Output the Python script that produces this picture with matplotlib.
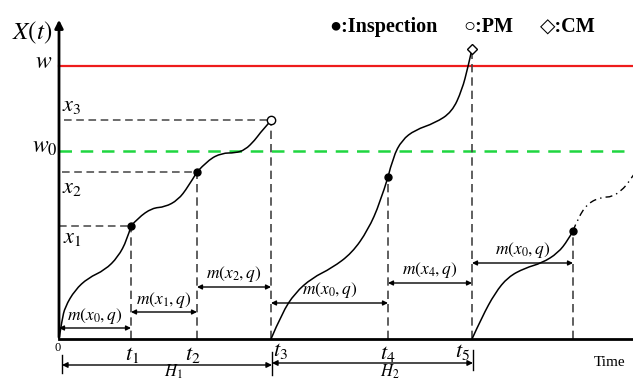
import matplotlib.pyplot as plt
from matplotlib.path import Path
from matplotlib.patches import PathPatch

plt.rcParams.update({
    'font.family': ['Liberation Serif', 'DejaVu Sans'],
    'mathtext.fontset': 'stix',
})

# ── Data (time units / degradation units) ─────
t_insp = [7.2, 13.8, 21.2, 32.9, 41.3, 51.4]      # t1..t5 and next inspection
w_fail = 27.3
w_pm = 18.8
x_levels = [11.3, 16.7, 21.9]                     # x1, x2, x3

# cycle 1: 0 -> PM at t3
c1_t = [0.0, 0.3, 0.6, 1.6, 2.9, 4.6, 5.9, 6.8, 7.2, 7.9, 9.3, 10.6, 11.9, 12.9, 13.8,
        14.9, 16.3, 17.6, 18.6, 19.6, 20.1, 21.0, 21.2]
c1_x = [0.0, 1.9, 3.2, 4.9, 6.1, 6.9, 8.2, 9.9, 11.3, 12.1, 13.1, 13.2, 13.9, 15.2, 16.7,
        17.9, 18.6, 18.6, 18.9, 19.9, 20.6, 21.6, 21.9]
# cycle 2: t3 -> CM at t5
c2_t = [21.2, 22.3, 23.6, 25.3, 27.3, 29.3, 30.9, 32.1, 32.9, 33.4, 34.3, 35.6, 37.6,
        39.3, 40.3, 40.9, 41.3]
c2_x = [0.0, 2.6, 4.6, 6.1, 7.1, 8.6, 10.9, 13.6, 16.2, 18.2, 19.9, 20.9, 21.6,
        22.7, 24.9, 27.2, 29.0]
# cycle 3: t5 -> next inspection, then continuation
c3_t = [41.3, 42.3, 43.6, 44.9, 46.6, 48.3, 49.9, 50.9, 51.4]
c3_x = [0.0, 2.2, 4.6, 6.2, 7.1, 7.6, 8.6, 9.9, 10.8]
c4_t = [51.4, 51.9, 52.9, 54.3, 55.3, 56.3, 56.9, 57.3, 57.6]
c4_x = [10.8, 12.1, 13.6, 14.2, 14.2, 14.9, 15.6, 16.2, 16.6]

insp_t = [7.2, 13.8, 32.9, 51.4]
insp_x = [11.3, 16.7, 16.2, 10.8]
pm_pt = (21.2, 21.9)
cm_pt = (41.3, 29.0)
top_x = [11.3, 16.7, 21.9, 16.2, 29.0, 10.8]     # top of each vertical dashed line

m_start = [0.0, 7.2, 13.8, 21.2, 32.9, 41.3]
m_end = [7.2, 13.8, 21.2, 32.9, 41.3, 51.4]
m_y = [1.1, 2.7, 5.2, 3.6, 5.6, 7.6]
m_text = [r'$m(x_0,q)$', r'$m(x_1,q)$', r'$m(x_2,q)$',
          r'$m(x_0,q)$', r'$m(x_4,q)$', r'$m(x_0,q)$']


def smooth_path(ts, xs):
    # quadratic B-spline style path through the read points
    verts = [(ts[0], xs[0])]
    codes = [Path.MOVETO]
    n = len(ts)
    if n == 2:
        verts.append((ts[1], xs[1]))
        codes.append(Path.LINETO)
        return Path(verts, codes)
    for i in range(1, n - 1):
        if i == n - 2:
            end = (ts[-1], xs[-1])
        else:
            end = ((ts[i] + ts[i + 1]) / 2, (xs[i] + xs[i + 1]) / 2)
        verts += [(ts[i], xs[i]), end]
        codes += [Path.CURVE3, Path.CURVE3]
    return Path(verts, codes)


def draw_curve(ax, ts, xs, **kw):
    # split at inspection times so the path passes through the marks
    cuts = [0] + [i for i in range(1, len(ts) - 1) if ts[i] in insp_t] + [len(ts) - 1]
    for a, b in zip(cuts[:-1], cuts[1:]):
        p = smooth_path(ts[a:b + 1], xs[a:b + 1])
        ax.add_patch(PathPatch(p, fill=False, **kw))


fig = plt.figure(figsize=(6.33, 3.81), dpi=100, facecolor='white')
ax = fig.add_axes([0, 0, 1, 1])
ax.set_xlim(-5.9, 57.4)
ax.set_ylim(-4.2, 33.9)
ax.axis('off')

# thresholds
ax.plot([0, 57.4], [w_fail, w_fail], color='#ee1c1c', lw=1.6, zorder=2)
ax.plot([0, 57.4], [w_pm, w_pm], color='#1fd640', lw=1.8, dashes=(5, 3.5), zorder=2)

# horizontal guides
gray = '#444444'
ax.plot([0.0, t_insp[0]], [x_levels[0]] * 2, color=gray, lw=1.1, dashes=(5, 3))
ax.plot([0.3, t_insp[1]], [x_levels[1]] * 2, color=gray, lw=1.1, dashes=(5, 3))
ax.plot([0.5, t_insp[2]], [x_levels[2]] * 2, color=gray, lw=1.1, dashes=(5, 3))

# vertical guides
for t, top in zip(t_insp, top_x):
    ax.plot([t, t], [0, top], color=gray, lw=1.2, dashes=(5, 3))

# degradation paths
draw_curve(ax, c1_t, c1_x, edgecolor='black', lw=1.1, zorder=3)
draw_curve(ax, c2_t, c2_x, edgecolor='black', lw=1.1, zorder=3)
draw_curve(ax, c3_t, c3_x, edgecolor='black', lw=1.1, zorder=3)
ax.add_patch(PathPatch(smooth_path(c4_t, c4_x), fill=False, edgecolor='black', lw=1.0,
                       linestyle=(0, (5, 3, 1, 3)), zorder=3))

ax.plot(insp_t, insp_x, 'o', color='black', ms=5, zorder=4)
ax.plot(*pm_pt, 'o', mfc='white', mec='black', ms=6, mew=1.0, zorder=4)
ax.plot(*cm_pt, 'D', mfc='white', mec='black', ms=5.5, mew=1.0, zorder=4)

# axes with arrow
ax.plot([0, 57.4], [0, 0], color='black', lw=2, zorder=5)
ax.annotate('', xy=(0, 32.2), xytext=(0, -0.1),
            arrowprops=dict(arrowstyle='-|>', lw=2, color='black', mutation_scale=12), zorder=5)

# m(x, q) intervals
for a, b, y, s in zip(m_start, m_end, m_y, m_text):
    ax.annotate('', xy=(a, y), xytext=(b, y),
                arrowprops=dict(arrowstyle='<|-|>', lw=1.0, color='black',
                                mutation_scale=7, shrinkA=0, shrinkB=0))
    ax.text((a + b) / 2, y + 0.25, s, ha='center', va='bottom', fontsize=12.5)

# H1 / H2 spans
ax.annotate('', xy=(0.3, -2.6), xytext=(21.3, -2.6),
            arrowprops=dict(arrowstyle='<|-|>', lw=1.0, color='black', mutation_scale=8, shrinkA=0, shrinkB=0))
ax.annotate('', xy=(21.3, -2.4), xytext=(41.4, -2.4),
            arrowprops=dict(arrowstyle='<|-|>', lw=1.0, color='black', mutation_scale=8, shrinkA=0, shrinkB=0))
ax.plot([0.3, 0.3], [-1.6, -3.4], color='black', lw=1.0)
ax.plot([21.3, 21.3], [-1.3, -3.6], color='black', lw=1.0)
ax.plot([41.4, 41.4], [-1.1, -3.1], color='black', lw=1.0)
ax.text(11.4, -4.2, r'$H_1$', ha='center', va='bottom', fontsize=12)
ax.text(33.1, -4.2, r'$H_2$', ha='center', va='bottom', fontsize=12)

# axis labels
ax.text(-0.1, -0.9, '0', ha='center', va='center', fontsize=9)
for s, x, y in zip([r'$t_1$', r'$t_2$', r'$t_3$', r'$t_4$', r'$t_5$'],
                   [7.3, 13.4, 22.1, 32.9, 40.3], [-1.6, -1.6, -1.2, -1.5, -1.3]):
    ax.text(x, y, s, ha='center', va='center', fontsize=16)
ax.text(55.1, -2.3, 'Time', ha='center', va='center', fontsize=11)

ax.text(-2.7, 30.6, r'$X(t)$', ha='center', va='center', fontsize=18)
ax.text(-1.5, 27.6, r'$w$', ha='center', va='center', fontsize=17)
ax.text(-1.4, 19.2, r'$w_0$', ha='center', va='center', fontsize=17)
ax.text(1.3, 23.2, r'$x_3$', ha='center', va='center', fontsize=16)
ax.text(1.3, 15.1, r'$x_2$', ha='center', va='center', fontsize=16)
ax.text(1.3, 10.1, r'$x_1$', ha='center', va='center', fontsize=16)

# legend
ax.text(32.4, 31.2, '●:Inspection', ha='center', va='center', fontsize=14.5, fontweight='bold')
ax.text(42.9, 31.2, '○:PM', ha='center', va='center', fontsize=14.5, fontweight='bold')
ax.text(50.9, 31.2, '◇:CM', ha='center', va='center', fontsize=14.5, fontweight='bold')

fig.savefig('out.png', dpi=100, facecolor='white')
